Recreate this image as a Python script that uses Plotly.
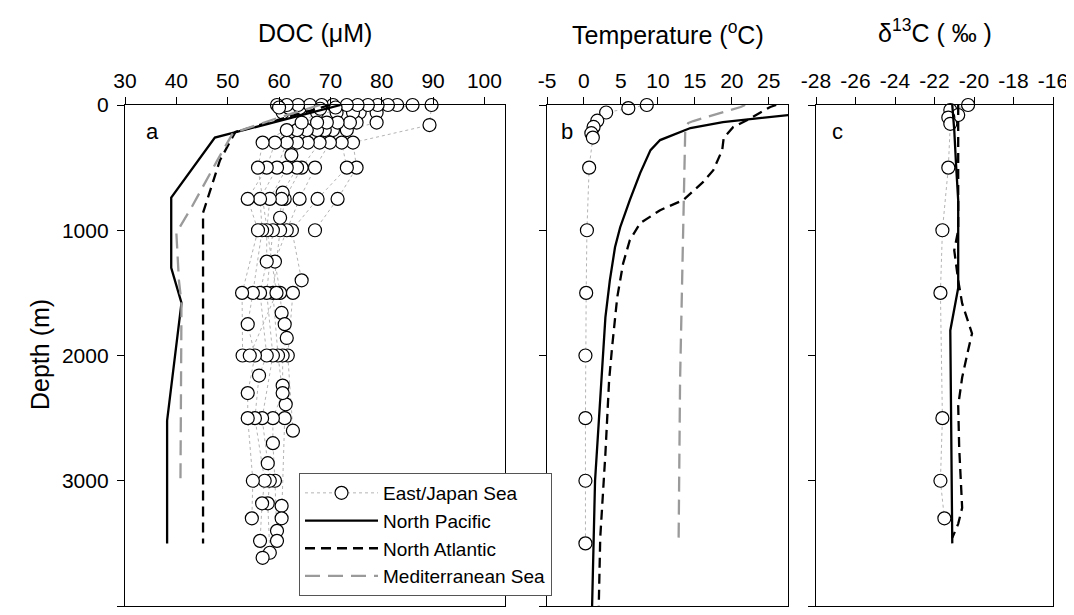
import plotly.graph_objects as go

# ---------------- Panel a: DOC (uM) ----------------
# East/Japan Sea stations (depth m, DOC uM)
ejs_doc_depth = [
    [0, 160, 300, 500, 750, 1000],
    [0, 60, 140, 200, 300, 500, 750, 1000, 1400, 1500, 2000, 2600],
    [0, 60, 140, 200, 300, 500, 750, 1000, 1250, 1500, 1660, 1750, 1860, 2000, 2240, 2390, 2500, 3200, 3300, 3400],
    [0, 60, 140, 200, 300, 500, 750, 1000, 1500, 2000, 2300, 2500, 2700, 3000, 3480],
    [0, 60, 140, 200, 300, 400, 500, 700, 750, 900, 1000, 1500, 2000, 2500, 2860, 3000, 3180, 3575],
    [0, 60, 140, 200, 300, 500, 750, 1000, 1250, 1500, 2000, 2160, 2500, 3000, 3180, 3480, 3615],
    [0, 60, 140, 200, 300, 500, 750, 1000, 1500, 1750, 2000, 2300, 2500, 3000, 3300],
    [0, 140, 200, 300, 500, 750, 1000, 1500, 2000],
    [0, 300, 500, 1500, 2000],
    [0, 25], [0, 25], [0, 30], [0, 20], [0, 20],
]
ejs_doc_value = [
    [89.7, 89.3, 74.4, 75.1, 71.4, 67.0],
    [86.0, 79.0, 79.0, 73.2, 72.2, 73.2, 67.5, 62.5, 64.4, 62.7, 61.7, 62.7],
    [83.0, 75.7, 75.1, 70.5, 69.9, 67.0, 64.0, 61.5, 59.2, 60.2, 60.5, 61.1, 61.5, 60.7, 60.7, 61.3, 61.1, 60.5, 60.5, 59.6],
    [81.2, 74.4, 73.8, 68.9, 67.9, 64.4, 61.1, 60.2, 58.8, 59.8, 60.7, 58.8, 58.8, 59.2, 59.6],
    [79.2, 71.2, 71.4, 67.4, 65.6, 62.4, 63.5, 60.7, 60.5, 60.2, 58.8, 57.6, 58.8, 56.7, 57.8, 58.2, 57.8, 58.2],
    [77.3, 67.4, 69.3, 65.4, 63.5, 61.5, 58.2, 57.6, 57.6, 56.3, 57.6, 56.1, 55.3, 57.2, 56.7, 56.3, 56.8],
    [75.3, 60.7, 67.4, 63.5, 61.5, 59.6, 56.3, 56.7, 54.9, 53.9, 55.3, 53.9, 53.9, 54.9, 54.7],
    [73.2, 64.4, 61.5, 59.2, 57.6, 53.9, 55.9, 52.8, 52.9],
    [70.5, 56.8, 55.9, 59.5, 54.3],
    [68.3, 64.0], [66.0, 62.0], [63.7, 68.0], [61.5, 71.0], [59.6, 60.0],
]

np_doc_depth = [0, 260, 740, 1300, 1580, 2520, 3500]
np_doc_value = [72.0, 47.5, 39.0, 39.0, 41.0, 38.2, 38.2]
na_doc_depth = [0, 215, 440, 860, 3500]
na_doc_value = [70.0, 51.5, 48.5, 45.2, 45.2]
med_doc_depth = [0, 100, 225, 440, 815, 1020, 1400, 1580, 3000]
med_doc_value = [68.0, 60.0, 51.0, 48.0, 43.0, 40.0, 40.5, 41.0, 40.8]

# ---------------- Panel b: Temperature (oC) ----------------
ejs_t_depth = [0, 25, 60, 125, 175, 225, 260, 500, 1000, 1500, 2000, 2500, 3000, 3500]
ejs_t_value = [8.5, 6.0, 3.0, 1.8, 1.3, 1.0, 1.2, 0.7, 0.4, 0.3, 0.2, 0.2, 0.2, 0.2]
np_t_depth = [0, 50, 80, 104, 136, 184, 280, 360, 544, 760, 976, 1136, 1400, 1696, 2064, 3000, 4000]
np_t_value = [29.5, 28.8, 27.7, 23.5, 18.8, 14.4, 10.3, 9.0, 7.6, 6.2, 4.9, 4.2, 3.5, 2.9, 2.5, 1.5, 1.1]
na_t_depth = [0, 16, 120, 176, 264, 360, 520, 616, 760, 840, 944, 1080, 1264, 1536, 1936, 2200, 2784, 3456, 4000]
na_t_value = [26.0, 25.2, 22.1, 20.2, 18.9, 18.7, 17.5, 16.1, 13.4, 10.3, 7.6, 6.2, 5.3, 4.5, 3.8, 3.4, 2.9, 2.2, 2.0]
med_t_depth = [0, 16, 128, 144, 200, 1000, 2200, 3500]
med_t_value = [21.8, 21.2, 14.8, 14.1, 13.7, 13.4, 13.0, 12.8]

# ---------------- Panel c: d13C (permil) ----------------
ejs_c_depth = [0, 40, 80, 100, 150, 500, 1000, 1500, 2500, 3000, 3300]
ejs_c_value = [-20.3, -21.2, -20.8, -21.3, -21.2, -21.3, -21.6, -21.7, -21.6, -21.7, -21.5]
np_c_depth = [0, 200, 500, 760, 1160, 1460, 1800, 3500]
np_c_value = [-21.1, -21.0, -20.9, -20.8, -20.8, -20.8, -21.2, -21.1]
na_c_depth = [0, 500, 1000, 1160, 1400, 1584, 1824, 1960, 2176, 2400, 2736, 3216, 3344, 3456]
na_c_value = [-20.8, -20.8, -20.8, -21.0, -20.8, -20.6, -20.1, -20.3, -20.6, -20.8, -20.75, -20.6, -20.8, -21.1]

# ---------------- Axis ticks ----------------
doc_ticks = [30, 40, 50, 60, 70, 80, 90, 100]
temp_ticks = [-5, 0, 5, 10, 15, 20, 25]
c13_ticks = [-28, -26, -24, -22, -20, -18, -16]
depth_ticks = [0, 1000, 2000, 3000, 4000]

series_names = ["East/Japan Sea", "North Pacific", "North Atlantic", "Mediterranean Sea"]

FONT = "Arial, 'Liberation Sans', sans-serif"
fig = go.Figure()


def flatten(depths, values):
    xs, ys = [], []
    for d, v in zip(depths, values):
        xs += list(v) + [None]
        ys += list(d) + [None]
    return xs, ys


def ejs_trace(x, y, xa, ya, show):
    return go.Scatter(
        x=x, y=y, xaxis=xa, yaxis=ya, mode="lines+markers",
        name=series_names[0], legendgroup="ejs", showlegend=show,
        line=dict(color="#b4b4b4", width=1, dash="dot"),
        marker=dict(symbol="circle", size=13, color="white",
                    line=dict(color="black", width=1.2)),
        cliponaxis=False, connectgaps=False,
    )


def ref_trace(x, y, xa, ya, kind, show):
    styles = {
        "np": dict(color="black", width=2.3, dash="solid"),
        "na": dict(color="black", width=2.3, dash="10px,6px"),
        "med": dict(color="#9a9a9a", width=2.3, dash="15px,8px"),
    }
    names = {"np": series_names[1], "na": series_names[2], "med": series_names[3]}
    return go.Scatter(
        x=x, y=y, xaxis=xa, yaxis=ya, mode="lines", name=names[kind],
        legendgroup=kind, showlegend=show, line=styles[kind],
    )


ex, ey = flatten(ejs_doc_depth, ejs_doc_value)
fig.add_trace(ejs_trace(ex, ey, "x", "y", True))
fig.add_trace(ref_trace(np_doc_value, np_doc_depth, "x", "y", "np", True))
fig.add_trace(ref_trace(na_doc_value, na_doc_depth, "x", "y", "na", True))
fig.add_trace(ref_trace(med_doc_value, med_doc_depth, "x", "y", "med", True))

fig.add_trace(ejs_trace(ejs_t_value, ejs_t_depth, "x2", "y2", False))
fig.add_trace(ref_trace(np_t_value, np_t_depth, "x2", "y2", "np", False))
fig.add_trace(ref_trace(na_t_value, na_t_depth, "x2", "y2", "na", False))
fig.add_trace(ref_trace(med_t_value, med_t_depth, "x2", "y2", "med", False))

fig.add_trace(ejs_trace(ejs_c_value, ejs_c_depth, "x3", "y3", False))
fig.add_trace(ref_trace(np_c_value, np_c_depth, "x3", "y3", "np", False))
fig.add_trace(ref_trace(na_c_value, na_c_depth, "x3", "y3", "na", False))

# page layout (page pixels); the page body has an 8px margin
OFF = 8
PL, PR, PT, PB = 125, 1053, 105, 606   # plot area edges on page
W, H = 1074 - OFF, 615 - OFF
pw = PR - PL
ph = PB - PT


def px2dom(a, b):
    return [(a - PL) / pw, (b - PL) / pw]


def ytop(py):
    return (PB - py) / ph


dom_a = px2dom(125, 505)
dom_b = px2dom(547, 788)
dom_c = px2dom(816, 1053)

xcommon = dict(side="top", ticks="outside", ticklen=7, tickwidth=1.2,
               tickcolor="black", showline=True, linecolor="black",
               linewidth=1.3, mirror=True, showgrid=False, zeroline=False,
               tickfont=dict(size=21, color="black", family=FONT))
ycommon = dict(range=[4000, 0], tickvals=depth_ticks, ticks="outside",
               ticklen=7, tickwidth=1.2, tickcolor="black", showline=True,
               linecolor="black", linewidth=1.3, mirror=True, showgrid=False,
               zeroline=False, tickfont=dict(size=21, color="black", family=FONT))

fig.update_layout(
    width=W, height=H,
    margin=dict(l=PL - OFF, r=W + OFF - PR, t=PT - OFF, b=H + OFF - PB,
                autoexpand=False),
    paper_bgcolor="white", plot_bgcolor="white",
    font=dict(family=FONT, color="black"),
    xaxis=dict(xcommon, domain=dom_a, range=[30, 104], tickvals=doc_ticks,
               ticktext=[str(v) for v in doc_ticks], anchor="y"),
    xaxis2=dict(xcommon, domain=dom_b, range=[-5, 27.6], tickvals=temp_ticks,
                ticktext=[str(v) for v in temp_ticks], anchor="y2"),
    xaxis3=dict(xcommon, domain=dom_c, range=[-28, -16], tickvals=c13_ticks,
                ticktext=[str(v) for v in c13_ticks], anchor="y3"),
    yaxis=dict(ycommon, domain=[0, 1], anchor="x",
               ticktext=[str(v) for v in depth_ticks], ticklabelstandoff=4),
    yaxis2=dict(ycommon, domain=[0, 1], anchor="x2", showticklabels=False),
    yaxis3=dict(ycommon, domain=[0, 1], anchor="x3", showticklabels=False),
    legend=dict(x=(299 - PL) / pw, y=ytop(473), xanchor="left",
                yanchor="top", bgcolor="white", bordercolor="#555",
                borderwidth=1, font=dict(size=19, family=FONT, color="black"),
                itemwidth=73, tracegroupgap=0),
    showlegend=True,
)

annots = [
    dict(text="DOC (\u03bcM)", x=sum(dom_a) / 2, y=ytop(33)),
    dict(text="Temperature (<sup>o</sup>C)", x=sum(dom_b) / 2, y=ytop(33)),
    dict(text="\u03b4<sup>13</sup>C ( \u2030 )", x=sum(dom_c) / 2, y=ytop(31)),
]
for a in annots:
    fig.add_annotation(xref="paper", yref="paper", showarrow=False,
                       xanchor="center", yanchor="middle",
                       font=dict(size=25, family=FONT, color="black"), **a)

fig.add_annotation(text="Depth (m)", xref="paper", yref="paper",
                   x=(40 - PL) / pw, y=ytop(355), textangle=-90,
                   xanchor="center", yanchor="middle",
                   showarrow=False, font=dict(size=25, family=FONT, color="black"))

for ax, lab, fx in [("x", "a", 0.072), ("x2", "b", 0.083), ("x3", "c", 0.089)]:
    fig.add_annotation(text=lab, xref=ax + " domain", yref="y domain",
                       x=fx, y=ytop(131), xanchor="center", yanchor="middle",
                       showarrow=False,
                       font=dict(size=22, family=FONT, color="black"))

fig.write_html("out.html")
